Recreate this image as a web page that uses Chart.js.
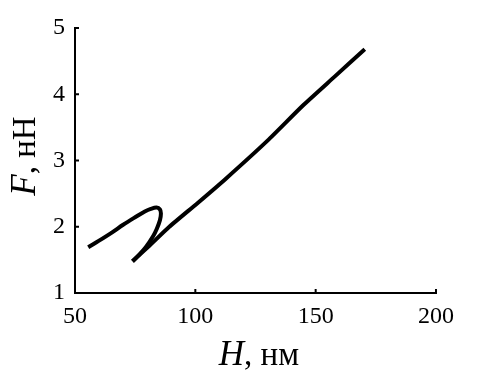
<!DOCTYPE html>
<html>
<head>
<meta charset="utf-8">
<script src="https://cdn.jsdelivr.net/npm/chart.js@4"></script>
<style>
  html, body { margin: 0; padding: 0; background: #fff; }
  #wrap { width: 482px; height: 374px; }
</style>
</head>
<body>
<div id="wrap"><canvas id="chart" width="482" height="374"></canvas></div>
<script>
// Curve F(H). It folds back, so it is kept as two branches
// that meet at the lowest point.
const foldH = [55.5, 60, 65.6, 70, 75.3, 79, 81.5, 83.9, 85.3, 85.7, 85.3, 84, 82.5, 79.4, 76.5, 73.9];
const foldF = [1.69, 1.79, 1.92, 2.03, 2.15, 2.23, 2.27, 2.29, 2.26, 2.20, 2.10, 1.97, 1.86, 1.69, 1.57, 1.48];
const riseH = [73.9, 80.8, 89.2, 101, 112.8, 130, 144.7, 158, 170.4];
const riseF = [1.48, 1.71, 2.00, 2.36, 2.73, 3.30, 3.83, 4.27, 4.68];
const xTicks = [50, 100, 150, 200];
const yTicks = [1, 2, 3, 4, 5];

const serif = '"Liberation Serif", "Times New Roman", serif';

// Small inward tick marks and axis titles (italic letter + plain units)
const axisDecor = {
    id: 'axisDecor',
    afterDraw(chart) {
        const ctx = chart.ctx;
        const area = chart.chartArea;
        const x = chart.scales.x;
        const y = chart.scales.y;
        ctx.save();
        ctx.strokeStyle = '#000';
        ctx.lineWidth = 2;
        xTicks.forEach(v => {
            const px = x.getPixelForValue(v);
            ctx.beginPath();
            ctx.moveTo(px, area.bottom);
            ctx.lineTo(px, area.bottom - 4);
            ctx.stroke();
        });
        yTicks.forEach(v => {
            const py = y.getPixelForValue(v);
            ctx.beginPath();
            ctx.moveTo(area.left, py);
            ctx.lineTo(area.left + 4, py);
            ctx.stroke();
        });

        ctx.fillStyle = '#000';
        ctx.textBaseline = 'alphabetic';
        ctx.textAlign = 'left';
        const drawTitle = (italicPart, plainPart) => {
            ctx.font = 'italic 35px ' + serif;
            const w1 = ctx.measureText(italicPart).width;
            ctx.font = '33px ' + serif;
            const w2 = ctx.measureText(plainPart).width;
            const start = -(w1 + w2) / 2;
            ctx.font = 'italic 35px ' + serif;
            ctx.fillText(italicPart, start, 0);
            ctx.font = '33px ' + serif;
            ctx.fillText(plainPart, start + w1, 0);
        };
        ctx.save();
        ctx.translate(259, 365);
        drawTitle('H', ', нм');
        ctx.restore();

        ctx.save();
        ctx.translate(35, 156);
        ctx.rotate(-Math.PI / 2);
        drawTitle('F', ', нН');
        ctx.restore();
        ctx.restore();
    }
};

const lineStyle = {
    showLine: true,
    borderColor: '#000',
    borderWidth: 4,
    pointRadius: 0,
    borderCapStyle: 'butt',
    borderJoinStyle: 'round'
};

new Chart(document.getElementById('chart'), {
    type: 'scatter',
    data: {
        datasets: [
            Object.assign({ data: foldH.map((h, i) => ({ x: h, y: foldF[i] })), tension: 0.35 }, lineStyle),
            Object.assign({ data: riseH.map((h, i) => ({ x: h, y: riseF[i] })), tension: 0.2 }, lineStyle)
        ]
    },
    options: {
        responsive: false,
        animation: false,
        layout: { padding: { left: 0, top: 28, right: 46, bottom: 0 } },
        plugins: { legend: { display: false }, tooltip: { enabled: false } },
        scales: {
            x: {
                type: 'linear',
                min: 50,
                max: 200,
                afterBuildTicks: s => { s.ticks = xTicks.map(v => ({ value: v })); },
                grid: { display: false, drawTicks: false },
                border: { display: true, color: '#000', width: 2 },
                ticks: { color: '#000', padding: 9, maxRotation: 0, font: { family: serif, size: 24 } },
                afterFit: s => { s.height = 81; }
            },
            y: {
                type: 'linear',
                min: 1,
                max: 5,
                afterBuildTicks: s => { s.ticks = yTicks.map(v => ({ value: v })); },
                grid: { display: false, drawTicks: false },
                border: { display: true, color: '#000', width: 2 },
                ticks: { color: '#000', padding: 10, font: { family: serif, size: 24 } },
                afterFit: s => { s.width = 75; }
            }
        }
    },
    plugins: [axisDecor]
});
</script>
</body>
</html>
